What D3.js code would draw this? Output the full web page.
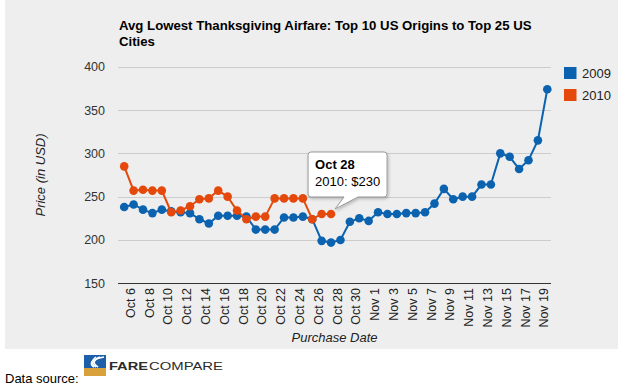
<!DOCTYPE html>
<html>
<head>
<meta charset="utf-8">
<script src="https://cdn.jsdelivr.net/npm/d3@7"></script>
<style>
  body { margin: 0; background: #fff; }
  svg { display: block; font-family: Arial, "Liberation Sans", sans-serif; }
</style>
</head>
<body>
<div id="chart"></div>
<script>
const dates = [
  'Oct 6', 'Oct 7', 'Oct 8', 'Oct 9', 'Oct 10', 'Oct 11', 'Oct 12', 'Oct 13', 'Oct 14', 'Oct 15',
  'Oct 16', 'Oct 17', 'Oct 18', 'Oct 19', 'Oct 20', 'Oct 21', 'Oct 22', 'Oct 23', 'Oct 24', 'Oct 25',
  'Oct 26', 'Oct 27', 'Oct 28', 'Oct 29', 'Oct 30', 'Oct 31', 'Nov 1', 'Nov 2', 'Nov 3', 'Nov 4',
  'Nov 5', 'Nov 6', 'Nov 7', 'Nov 8', 'Nov 9', 'Nov 10', 'Nov 11', 'Nov 12', 'Nov 13', 'Nov 14',
  'Nov 15', 'Nov 16', 'Nov 17', 'Nov 18', 'Nov 19', 'Nov 20'
];

const fares2009 = [
  238, 241, 235, 231, 235, 233, 232, 231, 224, 219,
  228, 228, 228, 227, 212, 212, 212, 226, 226, 227,
  224, 199, 197, 200, 221, 225, 222, 232, 230, 230,
  231, 231, 232, 242, 259, 247, 250, 250, 264, 264,
  300, 296, 282, 292, 315, 374
];

const fares2010 = [
  285, 257, 258, 257, 257, 232, 234, 239, 247, 248,
  257, 250, 234, 224, 227, 227, 248, 248, 248, 248,
  224, 230, 230
];

const seriesNames = ['2009', '2010'];
const seriesColors = ['#0b63b0', '#e4490b'];
const yTicks = [150, 200, 250, 300, 350, 400];
const tooltipIndex = 22; // Oct 28, 2010 series

const W = 623, H = 387;

const svg = d3.select('#chart').append('svg')
  .attr('width', W)
  .attr('height', H);

const defs = svg.append('defs');
defs.append('filter')
  .attr('id', 'shadow')
  .attr('x', '-20%').attr('y', '-20%')
  .attr('width', '150%').attr('height', '150%')
  .append('feDropShadow')
  .attr('dx', 1).attr('dy', 1.5)
  .attr('stdDeviation', 1.5)
  .attr('flood-color', '#000')
  .attr('flood-opacity', 0.25);

// gray panel
svg.append('rect')
  .attr('x', 5).attr('y', 0)
  .attr('width', 613).attr('height', 349)
  .attr('fill', '#eeeeee');

const plotLeft = 118, plotRight = 551;

const x = d3.scalePoint()
  .domain(dates)
  .range([119.5, 552])
  .padding(0.5);

const y = d3.scaleLinear()
  .domain([150, 400])
  .range([283.3, 66.7]);

// title
const title = svg.append('text')
  .attr('font-size', 13.2)
  .attr('font-weight', 'bold')
  .attr('fill', '#000');
title.append('tspan').attr('x', 119).attr('y', 29.5)
  .text('Avg Lowest Thanksgiving Airfare: Top 10 US Origins to Top 25 US');
title.append('tspan').attr('x', 119).attr('y', 46)
  .text('Cities');

// gridlines + y labels
const grid = svg.append('g').attr('class', 'grid');
grid.selectAll('line')
  .data(yTicks)
  .join('line')
  .attr('x1', plotLeft).attr('x2', plotRight)
  .attr('y1', d => Math.round(y(d)) + 0.5)
  .attr('y2', d => Math.round(y(d)) + 0.5)
  .attr('stroke', d => d === 150 ? '#333' : '#cccccc')
  .attr('stroke-width', d => d === 150 ? 1.6 : 1)
  .attr('shape-rendering', 'crispEdges');

grid.selectAll('text')
  .data(yTicks)
  .join('text')
  .attr('x', 105)
  .attr('y', d => y(d) + 4.5)
  .attr('text-anchor', 'end')
  .attr('font-size', 12.5)
  .attr('fill', '#333')
  .text(d => d);

// x labels, every other date
svg.append('g').attr('class', 'x-labels')
  .selectAll('text')
  .data(dates.filter((d, i) => i % 2 === 0))
  .join('text')
  .attr('transform', d => `translate(${x(d) + 10.5},288) rotate(-90)`)
  .attr('text-anchor', 'end')
  .attr('font-size', 12.5)
  .attr('fill', '#222')
  .text(d => d);

// axis titles
svg.append('text')
  .attr('x', (plotLeft + plotRight) / 2)
  .attr('y', 342)
  .attr('text-anchor', 'middle')
  .attr('font-size', 13)
  .attr('font-style', 'italic')
  .attr('fill', '#222')
  .text('Purchase Date');

svg.append('text')
  .attr('transform', `translate(45,${(y(150) + y(400)) / 2}) rotate(-90)`)
  .attr('text-anchor', 'middle')
  .attr('font-size', 13)
  .attr('font-style', 'italic')
  .attr('fill', '#222')
  .text('Price (in USD)');

// series
const line = d3.line()
  .x((d, i) => x(dates[i]))
  .y(d => y(d));

[fares2009, fares2010].forEach((values, s) => {
  const g = svg.append('g').attr('class', 'series-' + seriesNames[s]);
  g.append('path')
    .datum(values)
    .attr('d', line)
    .attr('fill', 'none')
    .attr('stroke', seriesColors[s])
    .attr('stroke-width', 2);
  g.selectAll('circle')
    .data(values)
    .join('circle')
    .attr('cx', (d, i) => x(dates[i]))
    .attr('cy', d => y(d))
    .attr('r', 4.3)
    .attr('fill', seriesColors[s]);
});

// legend
const legend = svg.append('g').attr('class', 'legend');
seriesNames.forEach((name, i) => {
  legend.append('rect')
    .attr('x', 564).attr('y', 67 + i * 22)
    .attr('width', 12.5).attr('height', 12)
    .attr('fill', seriesColors[i]);
  legend.append('text')
    .attr('x', 582).attr('y', 78 + i * 22)
    .attr('font-size', 13)
    .attr('fill', '#222')
    .text(name);
});

// tooltip on Oct 28, 2010
const px = x(dates[tooltipIndex]), py = y(fares2010[tooltipIndex]);
const bx = px - 23, by = py - 62, bw = 79, bh = 45, r = 3;
const tipX = px + 4, tipY = py - 5;
const tooltip = svg.append('g').attr('class', 'tooltip');
tooltip.append('path')
  .attr('d', `M${bx + r},${by} H${bx + bw - r} Q${bx + bw},${by} ${bx + bw},${by + r}
    V${by + bh - r} Q${bx + bw},${by + bh} ${bx + bw - r},${by + bh}
    H${bx + 50} L${tipX},${tipY} L${bx + 36},${by + bh}
    H${bx + r} Q${bx},${by + bh} ${bx},${by + bh - r}
    V${by + r} Q${bx},${by} ${bx + r},${by} Z`)
  .attr('fill', '#fff')
  .attr('stroke', '#999')
  .attr('stroke-width', 1)
  .attr('filter', 'url(#shadow)');
tooltip.append('text')
  .attr('x', bx + 7).attr('y', by + 17.5)
  .attr('font-size', 13)
  .attr('font-weight', 'bold')
  .attr('fill', '#000')
  .text(dates[tooltipIndex]);
tooltip.append('text')
  .attr('x', bx + 7).attr('y', by + 34.5)
  .attr('font-size', 13)
  .attr('fill', '#000')
  .text(`${seriesNames[1]}: $${fares2010[tooltipIndex]}`);

// footer
svg.append('text')
  .attr('x', 5).attr('y', 383)
  .attr('font-size', 13)
  .attr('fill', '#000')
  .text('Data source:');

const logo = svg.append('g').attr('class', 'logo');
logo.append('rect')
  .attr('x', 84).attr('y', 355).attr('width', 22).attr('height', 13)
  .attr('fill', '#1d5ea9');
logo.append('rect')
  .attr('x', 84).attr('y', 368).attr('width', 22).attr('height', 8)
  .attr('fill', '#d9a13c');
[0, 4, 8].forEach(o => {
  logo.append('path')
    .attr('d', `M${104 - o},${357} Q${88},${360 + o / 2} ${98 - o / 2},${367}`)
    .attr('fill', 'none')
    .attr('stroke', '#fff')
    .attr('stroke-width', 1.6);
});
logo.append('text')
  .attr('x', 109).attr('y', 369.5)
  .attr('font-size', 11)
  .attr('font-weight', 900)
  .attr('textLength', 39)
  .attr('lengthAdjust', 'spacingAndGlyphs')
  .attr('fill', '#2b2b2b')
  .text('FARE');
logo.append('text')
  .attr('x', 149).attr('y', 369.5)
  .attr('font-size', 11)
  .attr('textLength', 74)
  .attr('lengthAdjust', 'spacingAndGlyphs')
  .attr('fill', '#2b2b2b')
  .text('COMPARE');
</script>
</body>
</html>
